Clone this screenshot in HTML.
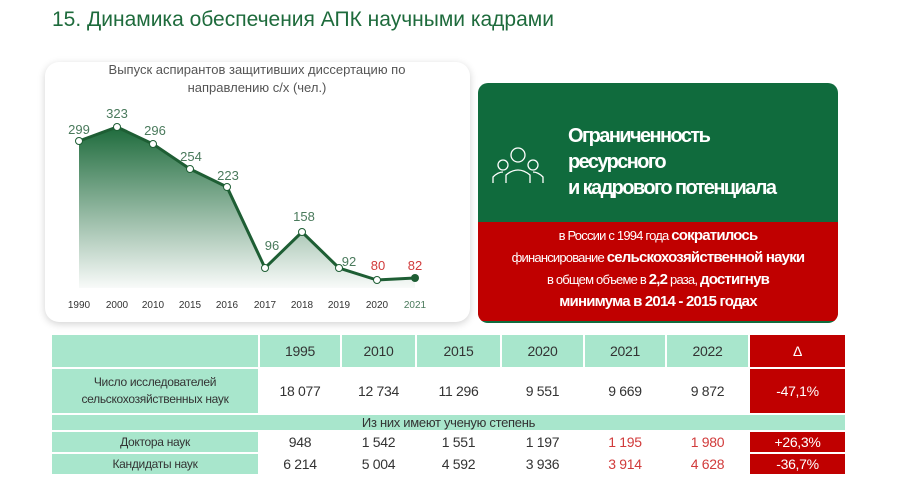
<!DOCTYPE html>
<html><head><meta charset="utf-8"><style>
body{margin:0;width:900px;height:503px;background:#fff;font-family:"Liberation Sans",sans-serif;position:relative;overflow:hidden}
.t{position:absolute;left:52px;top:8px;font-size:21px;color:#1e6b3c}
.card{position:absolute;left:45px;top:62px;width:425px;height:260px;border-radius:14px;background:#fff;box-shadow:0 2px 8px rgba(0,0,0,.18)}
.gb{position:absolute;left:478px;top:83px;width:360px;height:240px;border-radius:10px;background:#106b3d;overflow:hidden}
.rb{position:absolute;left:0;top:139px;width:360px;height:96px;background:#c00000;color:#fff;text-align:center;font-size:13px;line-height:22px;letter-spacing:-.8px;padding-top:3px}
.rb b{font-size:15px}
table{position:absolute;left:50px;top:333px;border-collapse:collapse;font-size:14px;color:#333;letter-spacing:-.3px}
td{text-align:center;padding:0;border:2px solid #fff}
.g{background:#a8e6cc}.r{background:#c00000;color:#fff}.red{color:#d13b3b}
</style></head><body>
<div class="t">15. Динамика обеспечения АПК научными кадрами</div>
<div class="card"></div>
<svg style="position:absolute;left:0;top:0" width="900" height="503">
<defs><linearGradient id="f" x1="0" y1="0" x2="0" y2="1"><stop offset="0" stop-color="#1e6b3c"/><stop offset="1" stop-color="#1e6b3c" stop-opacity="0.03"/></linearGradient></defs>
<text x="257" y="74" font-size="13" fill="#555" text-anchor="middle" font-family="Liberation Sans">Выпуск аспирантов защитивших диссертацию по</text>
<text x="257" y="92" font-size="13" fill="#555" text-anchor="middle" font-family="Liberation Sans">направлению с/х (чел.)</text>
<path d="M79,141 L117,127 L153,144 L190,169 L227,187 L265,268 L302,232 L339,268 L377,280 L415,278 L415,288 L79,288Z" fill="url(#f)"/>
<polyline points="79,141 117,127 153,144 190,169 227,187 265,268 302,232 339,268 377,280 415,278" fill="none" stroke="#1e5e34" stroke-width="3"/>
<g fill="#fff" stroke="#1e5e34" stroke-width="1"><circle cx="79" cy="141" r="3.5"/><circle cx="117" cy="127" r="3.5"/><circle cx="153" cy="144" r="3.5"/><circle cx="190" cy="169" r="3.5"/><circle cx="227" cy="187" r="3.5"/><circle cx="265" cy="268" r="3.5"/><circle cx="302" cy="232" r="3.5"/><circle cx="339" cy="268" r="3.5"/><circle cx="377" cy="280" r="3.5"/></g>
<circle cx="415" cy="278" r="4" fill="#1e5e34"/>
<g font-size="13" fill="#4a7a5c" text-anchor="middle" font-family="Liberation Sans">
<text x="79" y="134">299</text><text x="117" y="118">323</text><text x="155" y="135">296</text><text x="191" y="161">254</text><text x="228" y="180">223</text><text x="272" y="250">96</text><text x="304" y="221">158</text><text x="349" y="266">92</text><text x="378" y="270" fill="#d13b3b">80</text><text x="415" y="270" fill="#d13b3b">82</text></g>
<g font-size="10" fill="#333" text-anchor="middle" font-family="Liberation Sans">
<text x="79" y="308">1990</text><text x="117" y="308">2000</text><text x="153" y="308">2010</text><text x="190" y="308">2015</text><text x="227" y="308">2016</text><text x="265" y="308">2017</text><text x="302" y="308">2018</text><text x="339" y="308">2019</text><text x="377" y="308">2020</text><text x="415" y="308" fill="#4a7a5c">2021</text></g>
</svg>
<div class="gb">
<svg style="position:absolute;left:12px;top:60px" width="56" height="50" fill="none" stroke="#fff" stroke-width="1.3"><circle cx="28" cy="12" r="7"/><circle cx="13" cy="22" r="5"/><circle cx="43" cy="22" r="5"/><path d="M16 40 V32 Q28 22 40 32 V40 M3 40 V34 Q8 29 13 29 M53 40 V34 Q48 29 43 29"/></svg>
<div style="position:absolute;left:90px;top:40px;color:#fff;font-size:20px;line-height:26px;letter-spacing:-1.6px;font-weight:bold">Ограниченность<br>ресурсного<br>и кадрового потенциала</div>
<div class="rb">в России с 1994 года <b>сократилось</b><br>финансирование <b>сельскохозяйственной науки</b><br>в общем объеме в <b>2,2</b> раза, <b>достигнув</b><br><b>минимума в 2014 - 2015 годах</b></div>
</div>
<table>
<tr style="height:34px" class="g"><td style="width:206px"></td><td style="width:80px">1995</td><td style="width:73px">2010</td><td style="width:83px">2015</td><td style="width:81px">2020</td><td style="width:80px">2021</td><td style="width:81px">2022</td><td class="r" style="width:95px">Δ</td></tr>
<tr style="height:46px"><td class="g" style="font-size:12px;line-height:17px">Число исследователей<br>сельскохозяйственных наук</td><td>18 077</td><td>12 734</td><td>11 296</td><td>9 551</td><td>9 669</td><td>9 872</td><td class="r">-47,1%</td></tr>
<tr style="height:17px" class="g"><td colspan="8" style="font-size:13px">Из них имеют ученую степень</td></tr>
<tr style="height:22px"><td class="g" style="font-size:12px">Доктора наук</td><td>948</td><td>1 542</td><td>1 551</td><td>1 197</td><td class="red">1 195</td><td class="red">1 980</td><td class="r">+26,3%</td></tr>
<tr style="height:22px"><td class="g" style="font-size:12px">Кандидаты наук</td><td>6 214</td><td>5 004</td><td>4 592</td><td>3 936</td><td class="red">3 914</td><td class="red">4 628</td><td class="r">-36,7%</td></tr>
</table>
</body></html>
